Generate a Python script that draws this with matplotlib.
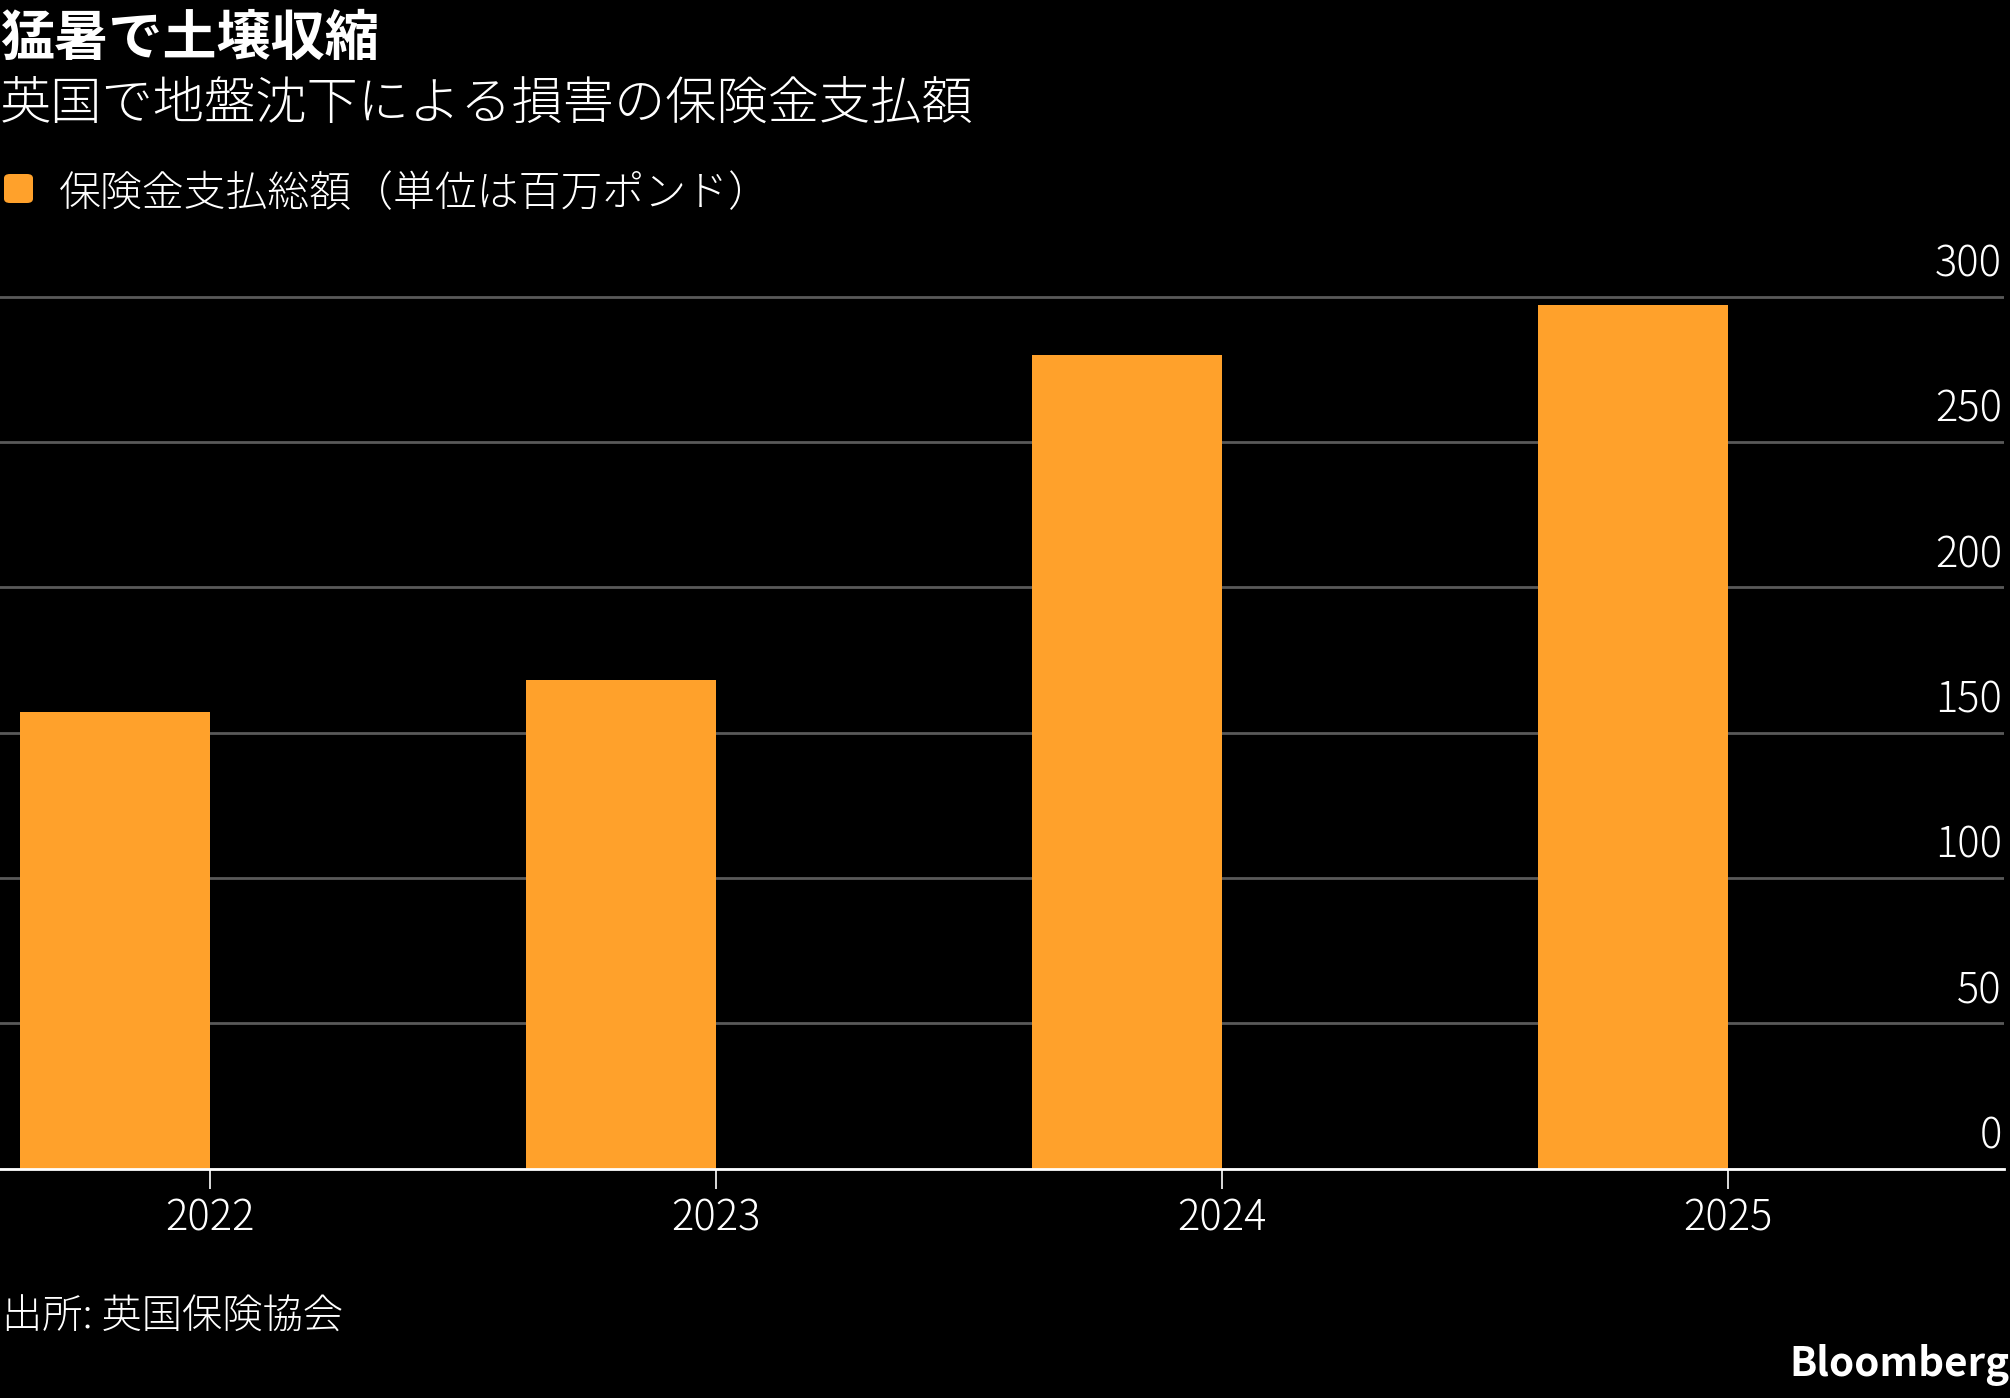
import matplotlib
matplotlib.use("Agg")
import matplotlib.pyplot as plt
from matplotlib.patches import FancyBboxPatch
from matplotlib.transforms import ScaledTranslation

plt.rcParams['font.family'] = ['Noto Sans CJK JP', 'DejaVu Sans']

years = ["2022", "2023", "2024", "2025"]
payouts = [157, 168, 280, 297]   # 百万ポンド
yticks = [0, 50, 100, 150, 200, 250, 300]

title = "猛暑で土壌収縮"
subtitle = "英国で地盤沈下による損害の保険金支払額"
legend_label = "保険金支払総額（単位は百万ポンド）"
source = "出所: 英国保険協会"

ORANGE = "#FFA12B"
W, H = 2010, 1398
LIGHT = "light"

fig = plt.figure(figsize=(W / 100, H / 100), dpi=100, facecolor="black")

# axes placed in pixel terms
ax_left, ax_right = 0, 2004
ax_bottom_px = 1168.5
px_per_unit = 145.3 / 50
ymax = 310
ax_top_px = ax_bottom_px - ymax * px_per_unit
ax = fig.add_axes([ax_left / W, 1 - ax_bottom_px / H,
                   (ax_right - ax_left) / W, (ax_bottom_px - ax_top_px) / H])
ax.set_facecolor("black")

x = list(range(len(years)))
ax.bar(x, payouts, width=-0.3745, align="edge", color=ORANGE, zorder=2)

ax.set_xlim(-0.415, 3.546)
ax.set_ylim(0, ymax)

for s in ["top", "right", "left"]:
    ax.spines[s].set_visible(False)
ax.spines["bottom"].set_color("white")
ax.spines["bottom"].set_linewidth(2.0)
ax.spines["bottom"].set_zorder(3)

ax.set_xticks(x)
ax.set_xticklabels(years, fontweight=LIGHT)
ax.tick_params(axis="x", colors="white", length=14.4, width=1.2,
               labelsize=30, pad=6, labelcolor="white")

ax.set_yticks(yticks)
ax.set_yticklabels([str(v) for v in yticks], fontweight=LIGHT)
ax.yaxis.tick_right()
ax.tick_params(axis="y", length=0, labelsize=30, pad=-1.5, labelcolor="white")
for lab in ax.get_yticklabels():
    lab.set_horizontalalignment("right")
    lab.set_verticalalignment("baseline")
    lab.set_transform(lab.get_transform() + ScaledTranslation(0, 20 / 100, fig.dpi_scale_trans))

ax.grid(axis="y", color="#595959", linewidth=2.0, zorder=1)
ax.grid(axis="x", visible=False)

# headings
fig.text(0, 1 - 55 / H, title, color="white", fontsize=39, fontweight="bold",
         ha="left", va="baseline")
fig.text(0, 1 - 119 / H, subtitle, color="white", fontsize=36.9, fontweight=LIGHT,
         ha="left", va="baseline")

# legend
fig.patches.append(FancyBboxPatch((4 / W, 1 - 203 / H), 29 / W, 29 / H,
                                  boxstyle="round,pad=0,rounding_size=0.003",
                                  transform=fig.transFigure, facecolor=ORANGE,
                                  edgecolor="none"))
fig.text(59 / W, 1 - 206 / H, legend_label, color="white", fontsize=30.2,
         fontweight=LIGHT, ha="left", va="baseline")

# footer
fig.text(2 / W, 1 - 1329 / H, source, color="white", fontsize=29,
         fontweight=LIGHT, ha="left", va="baseline")
fig.text(1 - 1 / W, 1 - 1376 / H, "Bloomberg", color="white", fontsize=29,
         fontweight="bold", ha="right", va="baseline")

fig.savefig("out.png", dpi=100, facecolor="black")
